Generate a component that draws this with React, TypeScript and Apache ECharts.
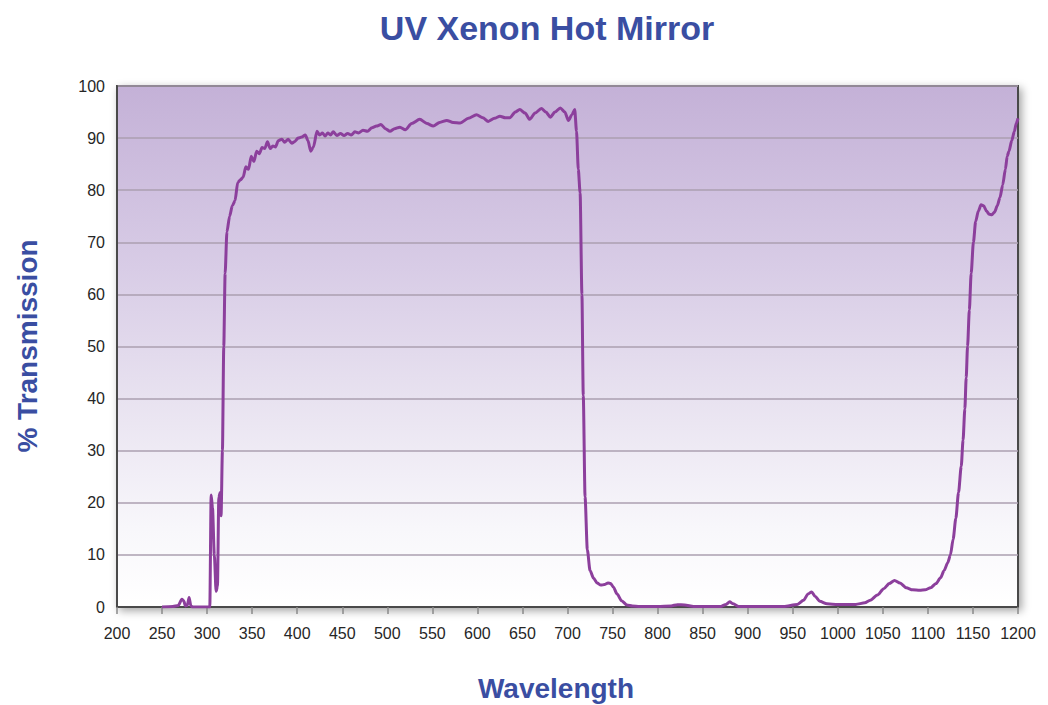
import React, { useEffect, useRef } from "react";
import * as echarts from "echarts";

const titleText = "UV Xenon Hot Mirror";
const xAxisTitle = "Wavelength";
const yAxisTitle = "% Transmission";

const wavelengths: number[] = [
  250, 262, 268, 272, 274, 276, 278, 280, 282, 284, 303, 304.5, 306, 308, 310, 311.5, 313, 314.5, 315.5, 317,
  318.5, 320, 322, 325, 328, 331, 334, 337, 340, 343, 346, 349, 352, 355, 358, 361, 364, 367, 370, 373,
  376, 379, 383, 386, 390, 394, 397, 401, 405, 409, 412, 415, 418, 422, 425, 428, 431, 434, 437, 440,
  444, 448, 452, 456, 460, 464, 468, 473, 478, 483, 488, 493, 498, 503, 508, 514, 520, 527, 536, 544,
  551, 558, 566, 573, 581, 590, 599, 606, 612, 619, 625, 631, 636, 642, 647, 653, 658, 664, 671, 676,
  681, 686, 692, 697, 701, 705, 708, 710, 712, 714, 716, 717.5, 719.5, 722, 725, 729, 733, 737, 741, 745,
  748, 751, 755, 760, 766, 772, 780, 800, 815, 822, 830, 840, 870, 876, 880, 884, 890, 940, 955, 962,
  967, 971, 975, 980, 988, 1000, 1020, 1030, 1036, 1044, 1051, 1057, 1063, 1069, 1076, 1083, 1091, 1097, 1103, 1109,
  1114, 1118, 1122, 1125, 1128, 1131, 1134, 1137, 1139, 1141, 1142.5, 1144, 1146, 1148, 1150.5, 1153, 1156, 1159, 1162, 1165,
  1168, 1171, 1174, 1177, 1180, 1183, 1186, 1188, 1190, 1193, 1196, 1198, 1200,
];

const transmission: number[] = [
  0, 0.1, 0.3, 1.5, 1.2, 0.2, 0.3, 1.8, 0.2, 0, 0, 21.5, 19, 10, 3, 4, 21, 22, 17.5, 30,
  50, 64, 72, 75, 77, 78, 81.5, 82, 82.5, 84.5, 84, 86.5, 85.5, 87.5, 87, 88.2, 88, 89.3, 88, 88.5,
  88.3, 89.5, 89.8, 89.2, 89.8, 89, 89.3, 90, 90.2, 90.6, 89.5, 87.5, 88.3, 91.3, 90.6, 91.0, 90.4, 91.0, 90.6, 91.2,
  90.5, 90.9, 90.5, 90.9, 90.6, 91.2, 91.0, 91.5, 91.3, 92.0, 92.3, 92.6, 91.8, 91.3, 91.8, 92.1, 91.6, 92.8, 93.6, 92.8,
  92.3, 93.0, 93.4, 93.0, 92.9, 93.8, 94.5, 93.9, 93.2, 93.8, 94.2, 93.9, 93.9, 95.0, 95.5, 94.8, 93.6, 94.8, 95.7, 95.0,
  94.0, 95.0, 95.8, 95.0, 93.4, 94.5, 95.5, 91.3, 84, 79.5, 60, 40.6, 21.1, 11, 7, 5.5, 4.6, 4.2, 4.3, 4.6,
  4.5, 3.8, 2.5, 1.2, 0.4, 0.2, 0.1, 0.1, 0.2, 0.45, 0.4, 0.1, 0.1, 0.5, 1.0, 0.6, 0.1, 0.1, 0.5, 1.3,
  2.5, 2.9, 2.0, 1.1, 0.6, 0.5, 0.5, 0.8, 1.3, 2.3, 3.5, 4.5, 5.1, 4.6, 3.7, 3.3, 3.2, 3.3, 3.7, 4.5,
  5.6, 7, 8.5, 10, 13, 17, 22, 27, 32, 38, 44, 50, 57, 64, 70, 74, 76, 77.2, 77, 76,
  75.4, 75.3, 75.8, 77, 78.6, 81, 84, 86.5, 87.5, 89.5, 91.3, 92.8, 93.8,
];

const FONT = "'Liberation Sans', Arial, Helvetica, sans-serif";
const BLUE = "#3a4ea2";

export default function App() {
  const ref = useRef<HTMLDivElement>(null);

  useEffect(() => {
    if (!ref.current) return;
    const chart = echarts.init(ref.current, undefined, { renderer: "svg" });
    const seriesData = wavelengths.map((w, i) => [w, transmission[i]]);

    chart.setOption({
      animation: false,
      backgroundColor: "#ffffff",
      grid: {
        left: 117,
        right: 30,
        top: 86,
        bottom: 98,
        show: true,
        borderColor: "#4a4a4a",
        borderWidth: 2,
        shadowColor: "rgba(0,0,0,0.35)",
        shadowBlur: 8,
        shadowOffsetX: 3,
        shadowOffsetY: 3,
        backgroundColor: new echarts.graphic.LinearGradient(0, 0, 0, 1, [
          { offset: 0, color: "#c4b1d7" },
          { offset: 0.35, color: "#d8cce6" },
          { offset: 0.6, color: "#e8e2f0" },
          { offset: 0.85, color: "#f8f7fb" },
          { offset: 1, color: "#ffffff" },
        ]),
      },
      xAxis: {
        type: "value",
        min: 200,
        max: 1200,
        interval: 50,
        axisLine: { show: true, lineStyle: { color: "#4a4a4a", width: 2 } },
        axisTick: { show: true, inside: false, length: 7, lineStyle: { color: "#8a8a8a", width: 1.5 } },
        splitLine: { show: false },
        axisLabel: {
          color: "#262626",
          fontSize: 16,
          fontFamily: FONT,
          margin: 18,
          formatter: (v: number) => String(v),
        },
      },
      yAxis: {
        type: "value",
        min: 0,
        max: 100,
        interval: 10,
        axisLine: { show: true, lineStyle: { color: "#4a4a4a", width: 2 } },
        axisTick: { show: false },
        splitLine: { show: true, lineStyle: { color: "#ab9fb0", width: 1.5 } },
        axisLabel: { color: "#262626", fontSize: 16, fontFamily: FONT, margin: 12 },
      },
      series: [
        {
          type: "line",
          data: seriesData,
          showSymbol: false,
          smooth: 0.25,
          smoothMonotone: "x",
          lineStyle: { color: "#8c3f9c", width: 3 },
          z: 3,
        },
      ],
      graphic: [
        {
          type: "text",
          x: 547,
          y: 28,
          style: {
            text: titleText,
            fill: BLUE,
            font: `bold 34px ${FONT}`,
            textAlign: "center",
            textVerticalAlign: "middle",
          },
        },
        {
          type: "text",
          x: 556,
          y: 688,
          style: {
            text: xAxisTitle,
            fill: BLUE,
            font: `bold 28px ${FONT}`,
            textAlign: "center",
            textVerticalAlign: "middle",
          },
        },
        {
          type: "text",
          x: 27,
          y: 346,
          rotation: Math.PI / 2,
          style: {
            text: yAxisTitle,
            fill: BLUE,
            font: `bold 28px ${FONT}`,
            textAlign: "center",
            textVerticalAlign: "middle",
          },
        },
      ],
    });
    return () => chart.dispose();
  }, []);

  return (
    <div
      ref={ref}
      style={{ position: "fixed", left: 0, top: 0, width: 1048, height: 705, background: "#fff" }}
    />
  );
}
